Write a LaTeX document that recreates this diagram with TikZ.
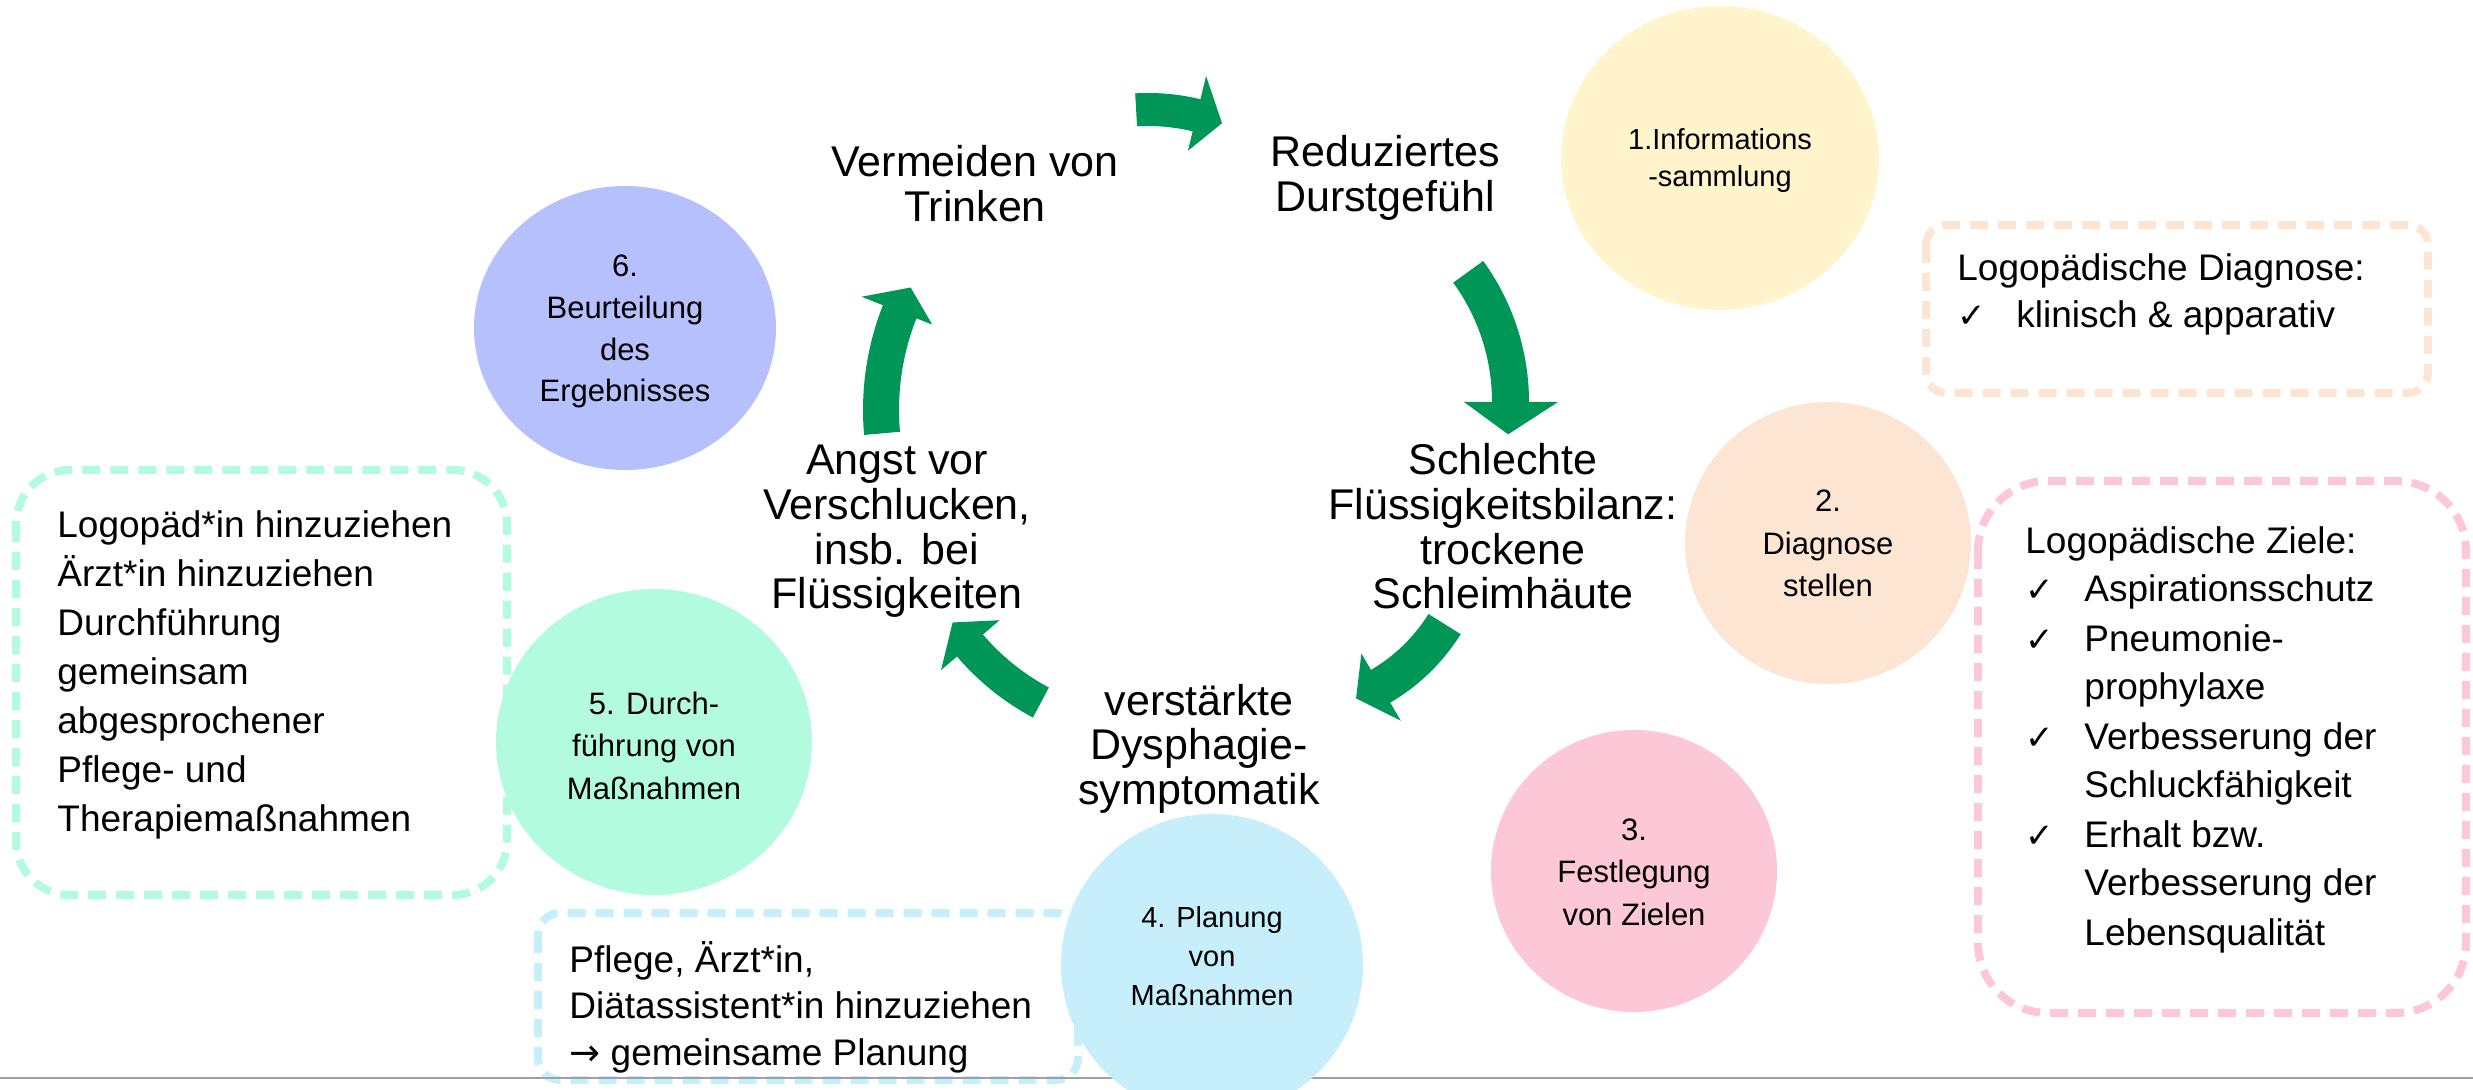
\documentclass[tikz,border=0pt]{standalone}
\usepackage{fontspec}
\setmainfont{Liberation Sans}
\newfontfamily\symfont{DejaVu Sans}
\usetikzlibrary{shapes.geometric}
\definecolor{agreen}{RGB}{0,150,88}
\definecolor{cyellow}{RGB}{255,244,204}
\definecolor{cpeach}{RGB}{253,229,211}
\definecolor{cpink}{RGB}{252,199,214}
\definecolor{cblue}{RGB}{198,239,251}
\definecolor{cmint}{RGB}{179,251,223}
\definecolor{clav}{RGB}{182,192,252}
\definecolor{lgray}{RGB}{160,160,160}
\newcommand\mlc[1]{\begin{tabular}[t]{@{}c@{}}#1\end{tabular}}
\newcommand\mll[1]{\begin{tabular}[t]{@{}l@{}}#1\end{tabular}}
\newcommand\ckl[1]{\begin{tabular}[t]{@{}p{29.5pt}@{}l@{}}#1\end{tabular}}
\newcommand\ck{{\symfont\fontsize{17}{17}\selectfont ✓}}
% block arc arrow: cx cy rin rout a0 a1 barbin barbout tipangle
\newcommand\blockarc[9]{%
  \fill[agreen] plot[domain=#5:#6, samples=30] ({#1+#4*cos(\x)},{#2+#4*sin(\x)})
   -- ({#1+#8*cos(#6)},{#2+#8*sin(#6)})
   -- ({#1+(#3+#4)/2*cos(#9)},{#2+(#3+#4)/2*sin(#9)})
   -- ({#1+#7*cos(#6)},{#2+#7*sin(#6)})
   -- plot[domain=#6:#5, samples=30] ({#1+#3*cos(\x)},{#2+#3*sin(\x)})
   -- cycle;}
\begin{document}
\begin{tikzpicture}[x=0.5pt,y=-0.5pt,
  big/.style={font=\fontsize{21.5}{22.25}\selectfont, inner sep=0pt, anchor=base},
  ctext/.style={font=\fontsize{15.5}{21.25}\selectfont, inner sep=0pt, anchor=base},
  btext/.style={font=\fontsize{18.5}{24.5}\selectfont, inner sep=0pt, anchor=base west},
  blob/.style={ellipse, inner sep=0pt, draw=none},
  dbox/.style={line width=4pt, dash pattern=on 9pt off 5pt}]
\useasboundingbox (0,0) rectangle (2473,1090);

% dashed boxes
\draw[dbox, draw=cpeach, rounded corners=10pt] (1926,225) rectangle (2428,393);
\draw[dbox, draw=cpink, rounded corners=35pt] (1978,481) rectangle (2466,1013);
\draw[dbox, draw=cmint, rounded corners=27pt] (16,470) rectangle (507,895);
\draw[dbox, draw=cblue, rounded corners=11pt] (538,913) rectangle (1078,1080);

% bottom rule
\coordinate (l0) at (0,1078);
\coordinate (l1) at (2473,1078);
\draw[lgray, line width=1pt] (l0) -- (l1);

% circles
\node[blob, fill=cyellow, minimum width=159pt, minimum height=152pt] (c1) at (1720,158) {};
\node[blob, fill=cpeach, minimum width=143pt, minimum height=141pt] (c2) at (1828,543) {};
\node[blob, fill=cpink, minimum width=143pt, minimum height=141pt] (c3) at (1634,871) {};
\node[blob, fill=cblue, minimum width=151pt, minimum height=151pt] (c4) at (1212,965) {};
\node[blob, fill=cmint, minimum width=158pt, minimum height=153pt] (c5) at (654,742) {};
\node[blob, fill=clav, minimum width=151pt, minimum height=142pt] (c6) at (625,328) {};

% green cycle arrows
\blockarc{1148}{316}{190}{223}{-93.3}{-76.4}{170}{247}{-69}
\blockarc{1289}{402}{203}{240}{-36}{0}{175}{269}{8.4}
\blockarc{1286}{525}{168}{206}{32}{59.6}{149}{227}{68}
\blockarc{1155}{488}{226}{260}{118}{139.6}{204}{281}{146.4}
\blockarc{1149}{410}{250}{286}{175}{201.5}{233}{309}{207.2}

% cycle texts
\node[big] (t1) at (975,177) {\mlc{Vermeiden von\\Trinken}};
\node[big] (t2) at (1385,167) {\mlc{Reduziertes\\Durstgefühl}};
\node[big] (t3) at (1503,475) {\mlc{Schlechte\\Flüssigkeitsbilanz:\\trockene\\Schleimhäute}};
\node[big] (t4) at (1199,715) {\mlc{verstärkte\\Dysphagie-\\symptomatik}};
\node[big] (t5) at (897,475) {\mlc{Angst vor\\Verschlucken,\\insb. bei\\Flüssigkeiten}};

% circle texts
\node[ctext, font=\fontsize{14.5}{18.5}\selectfont] (n1) at (1720,150) {\mlc{1.Informations\\-sammlung}};
\node[ctext] (n2) at (1828,512) {\mlc{2.\\Diagnose\\stellen}};
\node[ctext] (n3) at (1634,840) {\mlc{3.\\Festlegung\\von Zielen}};
\node[ctext, font=\fontsize{14.5}{19.5}\selectfont] (n4) at (1212,927) {\mlc{4. Planung\\von\\Maßnahmen}};
\node[ctext] (n5) at (654,714) {\mlc{5. Durch-\\führung von\\Maßnahmen}};
\node[ctext, font=\fontsize{15.5}{20.8}\selectfont] (n6) at (625,277) {\mlc{6.\\Beurteilung\\des\\Ergebnisses}};

% box texts
\node[btext, font=\fontsize{18.5}{23.5}\selectfont] (b1) at (1957,281) {\ckl{\multicolumn{2}{@{}l@{}}{Logopädische Diagnose:}\\ \ck & klinisch \& apparativ}};
\node[btext] (b2) at (2025,553) {\ckl{\multicolumn{2}{@{}l@{}}{Logopädische Ziele:}\\
 \ck & Aspirationsschutz\\ \ck & Pneumonie-\\ & prophylaxe\\ \ck & Verbesserung der\\ & Schluckfähigkeit\\ \ck & Erhalt bzw.\\ & Verbesserung der\\ & Lebensqualität}};
\node[btext] (b3) at (57,538) {\mll{Logopäd*in hinzuziehen\\Ärzt*in hinzuziehen\\Durchführung\\gemeinsam\\abgesprochener\\Pflege- und\\Therapiemaßnahmen}};
\node[btext, font=\fontsize{18.5}{23.25}\selectfont] (b4) at (569,972) {\mll{Pflege, Ärzt*in,\\Diätassistent*in hinzuziehen\\{\symfont →} gemeinsame Planung}};
\end{tikzpicture}
\end{document}
